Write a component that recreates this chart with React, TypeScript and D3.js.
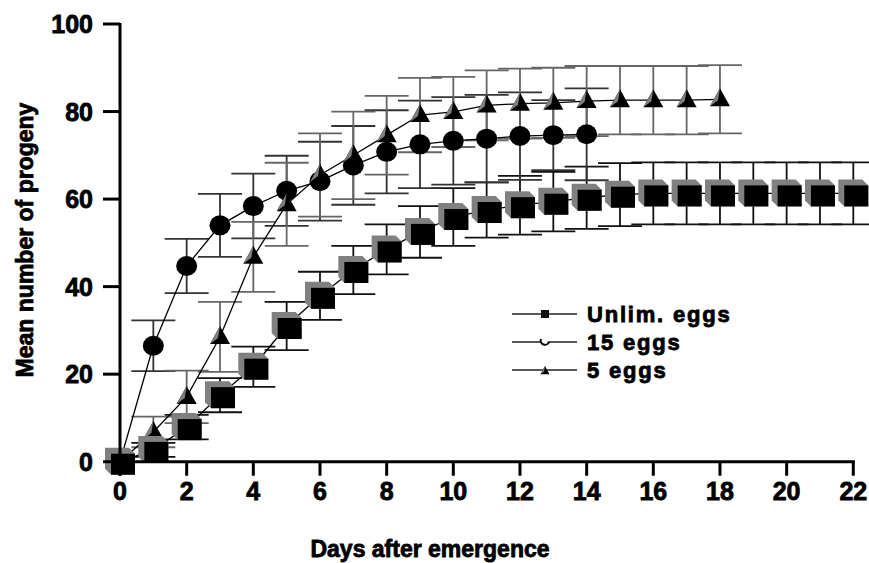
import React from 'react'
import * as d3 from 'd3'

// mean number of progeny per day (index = days after emergence)
const unlimMean = [0, 2.7, 7.9, 15.2, 21.7, 31, 37.9, 43.8, 48.5, 52.5, 55.9, 57.5, 58.6, 59.4, 60.3, 61, 61.3, 61.3, 61.3, 61.3, 61.3, 61.3, 61.3]
const unlimErr = [0, 1.6, 2.8, 3.9, 4.6, 5.5, 5.5, 5.5, 5.7, 5.9, 6.6, 6.3, 6.7, 6.8, 7.1, 7.2, 7.1, 7.1, 7.1, 7.1, 7.1, 7.1, 7.1]
const eggs15Mean = [0, 26.5, 44.7, 54, 58.4, 61.9, 64.1, 67.7, 70.8, 72.5, 73.3, 73.8, 74.4, 74.6, 74.8]
const eggs15Err = [0, 5.8, 6.2, 7.2, 7.4, 8, 9, 9, 9.5, 10, 10, 10, 10, 8, 10.5]
const eggs5Mean = [0, 6.8, 14.8, 28.5, 46.8, 58.8, 65.5, 70, 74.6, 79.2, 79.9, 81.4, 81.8, 82, 82.4, 82.6, 82.6, 82.6, 82.8]
const eggs5Err = [0, 3.5, 6, 8, 8, 9.5, 9.5, 10, 9, 8.5, 8, 8, 8, 8, 8, 7.8, 7.8, 7.8, 7.8]

const xTicks = [0, 2, 4, 6, 8, 10, 12, 14, 16, 18, 20, 22]
const yTicks = [0, 20, 40, 60, 80, 100]
const legendLabels = ['Unlim. eggs', '15 eggs', '5 eggs']

const W = 869
const H = 563
const font = '"Liberation Sans", Arial, sans-serif'

const x = d3.scaleLinear().domain([0, 22]).range([120, 853.3])
const y = d3.scaleLinear().domain([0, 100]).range([461.7, 24])

type Pt = { d: number; v: number; e: number }
const toPts = (m: number[], e: number[]): Pt[] => m.map((v, i) => ({ d: i, v, e: e[i] }))

const unlim = toPts(unlimMean, unlimErr)
const eggs15 = toPts(eggs15Mean, eggs15Err)
const eggs5 = toPts(eggs5Mean, eggs5Err)

const line = d3.line<Pt>().x(p => x(p.d)).y(p => y(p.v))

const CAP = 22

function ErrorBars({ pts, color }: { pts: Pt[]; color: string }) {
  return (
    <g stroke={color} strokeWidth={1.8} fill="none">
      {pts.filter(p => p.e > 0).map((p, i) => {
        const cx = x(p.d)
        const t = y(p.v + p.e)
        const b = y(p.v - p.e)
        return (
          <g key={i}>
            <line x1={cx} x2={cx} y1={t} y2={b} />
            <line x1={cx - CAP} x2={cx + CAP} y1={t} y2={t} />
            <line x1={cx - CAP} x2={cx + CAP} y1={b} y2={b} />
          </g>
        )
      })}
    </g>
  )
}

function Square({ cx, cy, s = 1 }: { cx: number; cy: number; s?: number }) {
  const L = cx - 15 * s, R = cx + 15 * s, T = cy - 14 * s, B = cy + 13 * s, d = 6 * s
  const pts = [[L, T], [R - d, T], [R, T + d], [R, B], [L + d, B], [L, B - d]]
  return (
    <g>
      <polygon points={pts.map(p => p.join(',')).join(' ')} fill="#808080" />
      <rect x={L + d} y={T + d} width={R - L - d} height={B - T - d} fill="#000" />
    </g>
  )
}

function Triangle({ cx, cy, s = 1 }: { cx: number; cy: number; s?: number }) {
  const apex = [cx, cy - 11 * s]
  const bl = [cx - 10 * s, cy + 7 * s]
  const br = [cx + 10 * s, cy + 7 * s]
  const mid = [cx - 2 * s, cy + 1 * s]
  return (
    <g>
      <polygon points={[apex, bl, br].map(p => p.join(',')).join(' ')} fill="#000" />
      <polygon points={[apex, bl, mid].map(p => p.join(',')).join(' ')} fill="#808080" />
    </g>
  )
}

export default function App() {
  const legendY = [314, 342, 370]
  const heavy = { fontFamily: font, fontWeight: 'bold' as const, stroke: '#000', strokeWidth: 0.8 }
  return (
    <svg width={W} height={H} style={{ position: 'absolute', left: 0, top: 0, background: '#fff' }}>
      {/* error bars */}
      <ErrorBars pts={unlim} color="#111" />
      <ErrorBars pts={eggs15} color="#333" />
      <ErrorBars pts={eggs5} color="#666" />

      {/* connecting lines */}
      <path d={line(eggs15) || ''} stroke="#000" strokeWidth={1.3} fill="none" />
      <path d={line(eggs5) || ''} stroke="#000" strokeWidth={1.3} fill="none" />
      <path d={line(unlim) || ''} stroke="#000" strokeWidth={1.3} fill="none" />

      {/* markers */}
      {eggs15.map((p, i) => (
        <ellipse key={'c' + i} cx={x(p.d)} cy={y(p.v)} rx={10.5} ry={10} fill="#000" />
      ))}
      {eggs5.map((p, i) => (
        <Triangle key={'t' + i} cx={x(p.d)} cy={y(p.v)} />
      ))}
      {unlim.map((p, i) => (
        <Square key={'s' + i} cx={x(p.d)} cy={y(p.v)} />
      ))}

      {/* axes */}
      <g stroke="#000" strokeWidth={3}>
        <line x1={x(0)} x2={x(0)} y1={y(100) - 1} y2={y(0) + 14} />
        <line x1={x(0)} x2={x(22) + 1.5} y1={y(0)} y2={y(0)} />
        {yTicks.map(t => (
          <line key={'yt' + t} x1={x(0) - 17} x2={x(0)} y1={y(t)} y2={y(t)} />
        ))}
        {xTicks.map(t => (
          <line key={'xt' + t} x1={x(t)} x2={x(t)} y1={y(0)} y2={y(0) + 14} />
        ))}
      </g>
      <g {...heavy} fontSize={25} fill="#000">
        {yTicks.map(t => (
          <text key={'yl' + t} x={x(0) - 27} y={y(t) + 9} textAnchor="end">{t}</text>
        ))}
        {xTicks.map(t => (
          <text key={'xl' + t} x={x(t)} y={y(0) + 38} textAnchor="middle">{t}</text>
        ))}
      </g>
      <text x={430} y={557} textAnchor="middle" {...heavy} fontSize={23}>
        Days after emergence
      </text>
      <text transform="translate(33,240) rotate(-90)" textAnchor="middle" {...heavy} fontSize={23}>
        Mean number of progeny
      </text>

      {/* legend */}
      {legendLabels.map((lab, i) => (
        <g key={lab}>
          <line x1={512} x2={577} y1={legendY[i]} y2={legendY[i]} stroke="#222" strokeWidth={1.3} />
          {i === 0 && <rect x={541} y={legendY[i] - 4} width={8} height={8} fill="#111" />}
          {i === 1 && (
          <path d={`M ${541} ${legendY[i] - 3} A 4 4 0 1 0 ${549} ${legendY[i]}`} stroke="#000" strokeWidth={2} fill="#fff" />
          )}
          {i === 2 && <Triangle cx={545} cy={legendY[i] + 1} s={0.45} />}
          <text x={587} y={legendY[i] + 8} {...heavy} fontSize={22} letterSpacing={1.8}>
            {lab}
          </text>
        </g>
      ))}
    </svg>
  )
}
